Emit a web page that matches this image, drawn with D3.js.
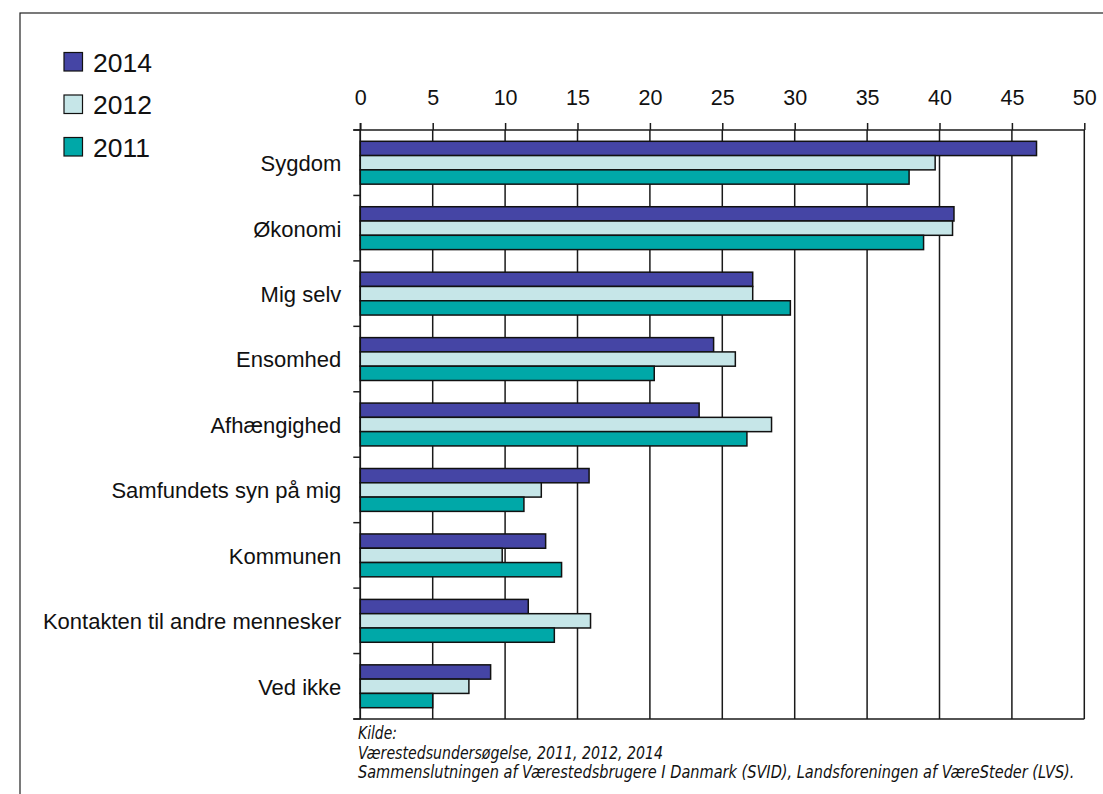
<!DOCTYPE html>
<html>
<head>
<meta charset="utf-8">
<script src="https://cdn.jsdelivr.net/npm/d3@7"></script>
<style>
  html, body { margin: 0; padding: 0; background: #fff; }
  svg { display: block; }
</style>
</head>
<body>
<svg id="chart" width="1103" height="794"></svg>
<script>
// Categories (top to bottom) and shares per survey year
const categories = ["Sygdom", "Økonomi", "Mig selv", "Ensomhed", "Afhængighed",
  "Samfundets syn på mig", "Kommunen", "Kontakten til andre mennesker", "Ved ikke"];
const years = ["2014", "2012", "2011"];
const values2014 = [46.7, 41.0, 27.1, 24.4, 23.4, 15.8, 12.8, 11.6, 9.0];
const values2012 = [39.7, 40.9, 27.1, 25.9, 28.4, 12.5, 9.8, 15.9, 7.5];
const values2011 = [37.9, 38.9, 29.7, 20.3, 26.7, 11.3, 13.9, 13.4, 5.0];
const xTicks = [0, 5, 10, 15, 20, 25, 30, 35, 40, 45, 50];
const colors = ["#4545A5", "#C6E6E8", "#00A8A8"];
const sourceLines = [
  "Kilde:",
  "Værestedsundersøgelse, 2011, 2012, 2014",
  "Sammenslutningen af Værestedsbrugere I Danmark (SVID), Landsforeningen af VæreSteder (LVS)."
];

const series = [values2014, values2012, values2011];
const rows = categories.map((c, i) => ({
  category: c,
  values: years.map((y, k) => ({ year: y, value: series[k][i] }))
}));

const FONT = "Liberation Sans, Arial, sans-serif";
const svg = d3.select("#chart");
const plot = { left: 360.3, right: 1084.3, top: 130, bottom: 719 };

const x = d3.scaleLinear().domain([0, 50]).range([plot.left, plot.right]);
const y = d3.scaleBand().domain(categories).range([plot.top, plot.bottom]).padding(0);
const groupH = y.bandwidth() * 0.655;
const yInner = d3.scaleBand().domain(years)
  .range([(y.bandwidth() - groupH) / 2, (y.bandwidth() + groupH) / 2]).padding(0);
const color = d3.scaleOrdinal().domain(years).range(colors);

// Outer frame
svg.append("rect")
  .attr("x", 20).attr("y", 13)
  .attr("width", 1200).attr("height", 900)
  .attr("fill", "none").attr("stroke", "#222").attr("stroke-width", 1.2);

// Vertical gridlines
svg.append("g").selectAll("line").data(xTicks).join("line")
  .attr("x1", d => x(d)).attr("x2", d => x(d))
  .attr("y1", plot.top).attr("y2", plot.bottom)
  .attr("stroke", "#1a1a1a").attr("stroke-width", 1.5);

// Bottom edge of plot
svg.append("line")
  .attr("x1", plot.left - 7).attr("x2", plot.right)
  .attr("y1", plot.bottom).attr("y2", plot.bottom)
  .attr("stroke", "#1a1a1a").attr("stroke-width", 1.5);

// Top axis with labels
const xAxis = svg.append("g")
  .attr("transform", `translate(0,${plot.top})`)
  .call(d3.axisTop(x).tickValues(xTicks).tickSize(7).tickPadding(18).tickSizeOuter(0));
xAxis.select(".domain").remove();
xAxis.append("line")
  .attr("x1", plot.left - 7).attr("x2", plot.right)
  .attr("stroke", "#1a1a1a").attr("stroke-width", 1.5);
xAxis.selectAll(".tick line").attr("stroke", "#1a1a1a").attr("stroke-width", 1.5);
xAxis.selectAll(".tick text")
  .attr("font-family", FONT)
  .attr("font-size", 21.5).attr("fill", "#111");

// Left axis: boundary ticks between categories
const boundaries = d3.range(categories.length + 1).map(i => plot.top + i * y.step());
const yAxisG = svg.append("g");
yAxisG.append("line")
  .attr("x1", plot.left).attr("x2", plot.left)
  .attr("y1", plot.top - 7).attr("y2", plot.bottom)
  .attr("stroke", "#1a1a1a").attr("stroke-width", 1.5);
yAxisG.selectAll("line.b").data(boundaries).join("line").attr("class", "b")
  .attr("x1", plot.left - 7).attr("x2", plot.left)
  .attr("y1", d => d).attr("y2", d => d)
  .attr("stroke", "#1a1a1a").attr("stroke-width", 1.5);

// Category labels
const yLabels = svg.append("g")
  .attr("transform", `translate(${plot.left},0)`)
  .call(d3.axisLeft(y).tickSize(0).tickPadding(19));
yLabels.select(".domain").remove();
yLabels.selectAll(".tick text")
  .attr("font-family", FONT)
  .attr("font-size", 22).attr("fill", "#111").attr("dy", "0.38em");

// Bars
const groups = svg.append("g").selectAll("g").data(rows).join("g")
  .attr("transform", d => `translate(0,${y(d.category)})`);
groups.selectAll("rect").data(d => d.values).join("rect")
  .attr("x", x(0))
  .attr("y", d => yInner(d.year))
  .attr("width", d => x(d.value) - x(0))
  .attr("height", yInner.bandwidth())
  .attr("fill", d => color(d.year))
  .attr("stroke", "#111").attr("stroke-width", 1.5);

// Legend
const legend = svg.append("g").attr("transform", "translate(64,52.5)");
const items = legend.selectAll("g").data(years).join("g")
  .attr("transform", (d, i) => `translate(0,${i * 42.5})`);
items.append("rect")
  .attr("width", 18.5).attr("height", 18.5)
  .attr("fill", d => color(d)).attr("stroke", "#111").attr("stroke-width", 1.2);
items.append("text")
  .attr("x", 29).attr("y", 19.3)
  .attr("font-family", FONT)
  .attr("font-size", 26.5).attr("fill", "#111")
  .text(d => d);

// Source note in a narrow italic face, horizontally fitted to its column
const lineWidths = [39, 305, 717];
const baselines = [739, 758.5, 778];
svg.append("g").selectAll("text").data(sourceLines).join("text")
  .attr("font-family", "Liberation Sans Narrow, DejaVu Sans Condensed, Liberation Sans, sans-serif")
  .attr("font-style", "italic")
  .attr("font-size", 17.5).attr("fill", "#111")
  .text(d => d)
  .each(function (d, i) {
    const w = this.getComputedTextLength();
    const sx = w > 0 ? lineWidths[i] / w : 1;
    d3.select(this).attr("transform", `translate(358,${baselines[i]}) scale(${sx},1)`);
  });
</script>
</body>
</html>
